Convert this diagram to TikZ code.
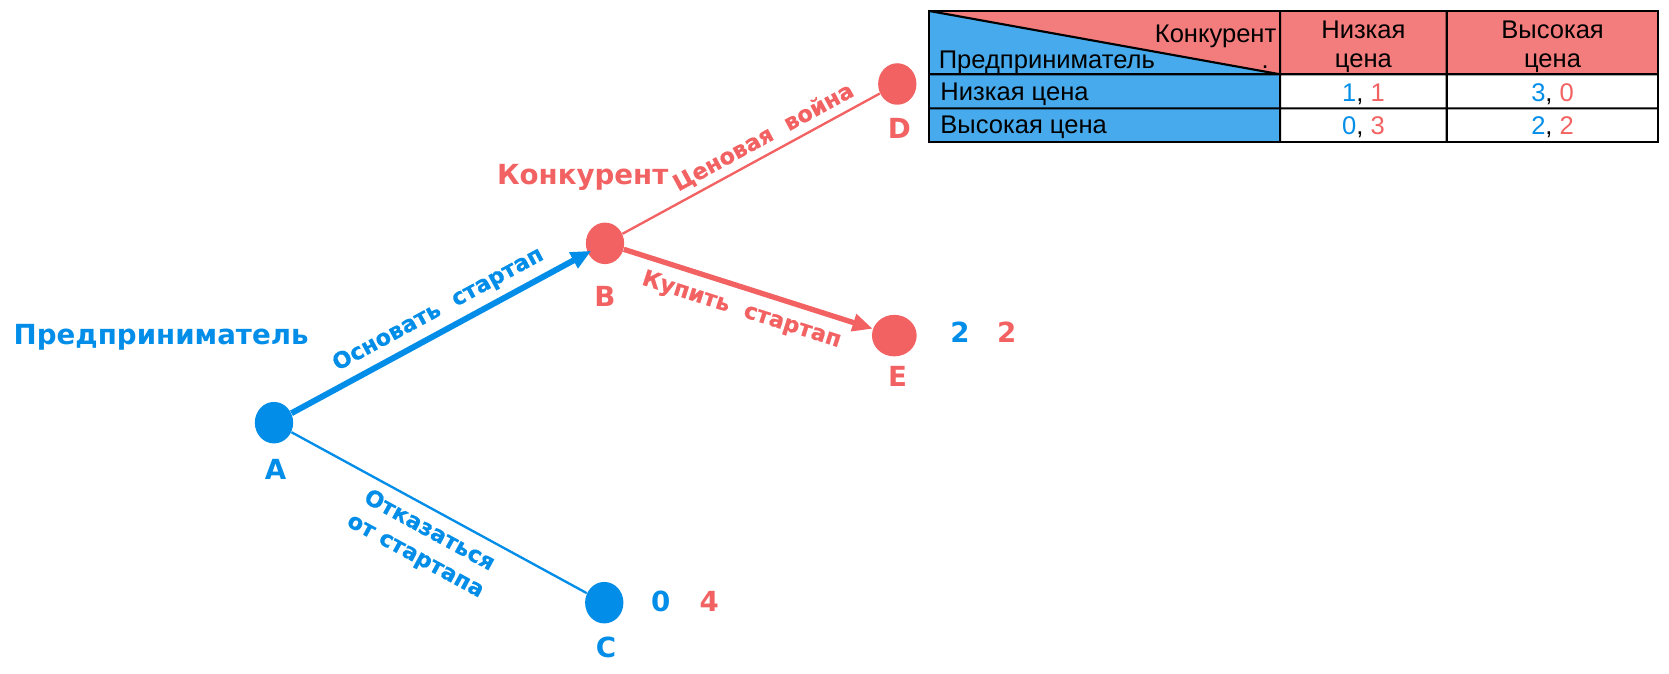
\documentclass[tikz,border=0pt]{standalone}
\usepackage{fontspec}
\setmainfont{DejaVu Sans}
\newfontfamily\movefont{DejaVu Sans}[BoldFeatures={FakeBold=0.6}]
\newfontfamily\tablefont{Liberation Sans}
\usetikzlibrary{arrows.meta,shapes.geometric}

\definecolor{playerA}{RGB}{2,142,232}
\definecolor{playerB}{RGB}{242,98,98}
\definecolor{cellred}{RGB}{243,124,124}
\definecolor{cellblue}{RGB}{71,170,236}

\begin{document}
\begin{tikzpicture}[x=0.5pt, y=-0.5pt,
    decision/.style = {ellipse, inner sep=0pt, minimum width=18pt, minimum height=19.5pt},
    move/.style = {line width=1.1pt},
    chosen/.style = {line width=2.8pt, -{Triangle[length=9.5pt,width=8pt]}},
    pointlbl/.style = {font=\bfseries\fontsize{13}{15.6}\selectfont, inner sep=0pt, anchor=base},
    movelbl/.style = {font=\movefont\bfseries\fontsize{10.5}{13.5}\selectfont, sloped, align=center},
    cell/.style = {font=\tablefont\fontsize{12}{13.8}\selectfont, inner sep=0pt, anchor=base, align=center}]

    \useasboundingbox (0,0) rectangle (1568,633.2);

    % decision nodes
    \node[decision, fill=playerA] (a) at (257.4,397.1) {};
    \node[decision, fill=playerB] (b) at (568.4,228.6) {};
    \node[decision, fill=playerA] (c) at (567.7,566.2) {};
    \node[decision, fill=playerB] (d) at (843,78.9) {};
    \node[decision, fill=playerB, minimum width=21pt] (e) at (840.2,315.3) {};

    \node[pointlbl, playerA] (alabel) at (259,450.3) {A};
    \node[pointlbl, playerB] (blabel) at (568.4,288.1) {B};
    \node[pointlbl, playerA] (clabel) at (569.3,617.5) {C};
    \node[pointlbl, playerB] (dlabel) at (845,130) {D};
    \node[pointlbl, playerB] (elabel) at (843.3,363.3) {E};

    % players
    \node[pointlbl, anchor=base west, playerA] (founder) at (12.5,323.5) {Предприниматель};
    \node[pointlbl, anchor=base west, playerB] (rival) at (466.6,173.5) {Конкурент};

    % moves
    \draw[chosen, playerA, shorten >=-2pt] (a) -- (b) node[movelbl, text=playerA, pos=0.53, above, inner sep=3.5pt] (found) {Основать\ \ стартап};
    \draw[move, playerA] (a) -- (c) node[movelbl, text=playerA, pos=0.5, below, inner sep=4.3pt] (quit) {Отказаться\\от стартапа};
    \draw[move, playerB] (b) -- (d) node[movelbl, text=playerB, pos=0.58, above, inner sep=2.6pt] (war) {Ценовая\ \ война};
    \draw[chosen, line width=2.5pt, playerB] (b) -- (e) node[movelbl, text=playerB, pos=0.5, below, inner sep=4.3pt] (buy) {Купить\ \ стартап};

    % payoffs
    \node[pointlbl, playerA] (cpayA) at (620.7,574.7) {0};
    \node[pointlbl, playerB] (cpayB) at (666.4,574.7) {4};
    \node[pointlbl, playerA] (epayA) at (901.9,322) {2};
    \node[pointlbl, playerB] (epayB) at (945.8,322) {2};

    % payoff table
    \fill[cellred] (873,10.3) rectangle (1558,69.8);
    \fill[cellblue] (873,10.3) -- (1202.6,69.8) -- (873,69.8) -- cycle;
    \fill[cellblue] (873,69.8) rectangle (1202.6,133.1);
    \draw[line width=1pt] (873,10.3) rectangle (1558,133.1);
    \draw[line width=1pt] (873,69.8) -- (1558,69.8) (873,101.8) -- (1558,101.8)
        (1202.6,10.3) -- (1202.6,133.1) (1359.2,10.3) -- (1359.2,133.1)
        (873,10.3) -- (1202.6,69.8);

    \node[cell, anchor=base east] (colhead) at (1199.4,39.8) {Конкурент};
    \node[cell, anchor=base west] (rowhead) at (881.6,64.2) {Предприниматель};
    \node[cell] (dot) at (1188.5,64.2) {.};
    \node[cell] (collow) at (1280.9,63.6) {Низкая\\цена};
    \node[cell] (colhigh) at (1458.6,63.6) {Высокая\\цена};
    \node[cell, anchor=base west] (rowlow) at (883.1,94) {Низкая цена};
    \node[cell, anchor=base west] (rowhigh) at (883.1,125.3) {Высокая цена};
    \node[cell] (lowlow) at (1280.9,95.5) {\textcolor{playerA}{1}, \textcolor{playerB}{1}};
    \node[cell] (lowhigh) at (1458.6,95.5) {\textcolor{playerA}{3}, \textcolor{playerB}{0}};
    \node[cell] (highlow) at (1280.9,126.2) {\textcolor{playerA}{0}, \textcolor{playerB}{3}};
    \node[cell] (highhigh) at (1458.6,126.2) {\textcolor{playerA}{2}, \textcolor{playerB}{2}};

\end{tikzpicture}
\end{document}
